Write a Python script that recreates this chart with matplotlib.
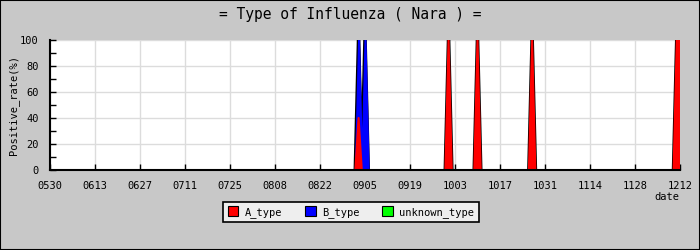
import matplotlib
matplotlib.use("Agg")
import matplotlib.pyplot as plt
import matplotlib.dates as mdates
import matplotlib.ticker as mticker
import pandas as pd
from matplotlib.patches import Rectangle

plt.rcParams["font.family"] = ["DejaVu Sans Mono"]

# Positive rate (%) by influenza type on the sampled days
start_date = "2009-05-30"
end_date = "2009-12-12"
sample_dates = ["2009-09-03", "2009-09-05", "2009-10-01", "2009-10-10",
                "2009-10-27", "2009-12-11", "2009-12-12"]
a_type = [40, 0, 100, 100, 100, 100, 100]
b_type = [60, 100, 0, 0, 0, 0, 0]
unknown_type = [0, 0, 0, 0, 0, 0, 0]

series_names = ["A_type", "B_type", "unknown_type"]
series_colors = ["#ff0000", "#0000ff", "#00ff00"]

BG = "#c8c8c8"

days = pd.date_range(start_date, end_date, freq="D")
df = pd.DataFrame({"A_type": a_type, "B_type": b_type, "unknown_type": unknown_type},
                  index=pd.to_datetime(sample_dates))
df = df.reindex(days, fill_value=0)


def near_nonzero(low, high):
    # days that carry a value, plus their direct neighbours
    has = high > low
    return has | has.shift(1, fill_value=False) | has.shift(-1, fill_value=False)


fig = plt.figure(figsize=(7, 2.5), dpi=100, facecolor=BG)
fig.patches.append(Rectangle((0, 0), 1, 1, transform=fig.transFigure, fill=False,
                             edgecolor="black", linewidth=1.5, zorder=10))
ax = fig.add_axes([50 / 700, 80 / 250, 630 / 700, 130 / 250])
ax.set_facecolor("white")

# black outline of the stacked total, drawn wide so it shows as a rim
total = df[series_names].sum(axis=1)
zero = pd.Series(0.0, index=days)
ax.plot(days, total.where(near_nonzero(zero, total)), color="black", linewidth=2.6, zorder=3)

# stacked areas (drawn top layer first so the lower one stays visible)
bases = {}
base = zero.copy()
for name in series_names:
    bases[name] = base
    base = base + df[name]
for name, color in reversed(list(zip(series_names, series_colors))):
    low = bases[name]
    high = low + df[name]
    ax.fill_between(days, low, high, where=near_nonzero(low, high), facecolor=color,
                    edgecolor=color, linewidth=1.5, zorder=4)

ax.set_xlim(days[0], days[-1])
ax.set_ylim(0, 100)

ticks = pd.date_range(start_date, end_date, freq="14D")
ax.set_xticks(ticks)
ax.xaxis.set_major_formatter(mdates.DateFormatter("%m%d"))
ax.yaxis.set_major_locator(mticker.MultipleLocator(20))
ax.yaxis.set_minor_locator(mticker.MultipleLocator(10))

ax.grid(True, color="#dcdcdc", linewidth=1, zorder=1)
ax.set_axisbelow(True)
ax.tick_params(axis="x", direction="in", length=4, width=1, pad=8, labelsize=7.5)
ax.tick_params(axis="y", which="both", direction="in", length=4, width=1, pad=8, labelsize=7.5)

for side in ["top", "right"]:
    ax.spines[side].set_visible(False)
for side in ["left", "bottom"]:
    ax.spines[side].set_linewidth(1.5)
    ax.spines[side].set_zorder(5)

ax.set_ylabel("Positive_rate(%)", fontsize=7.5, labelpad=1)
fig.text(679 / 700, 1 - 197 / 250, "date", ha="right", va="center", fontsize=7.5)

fig.text(0.5, 1 - 14 / 250, "= Type of Influenza ( Nara ) =", ha="center", va="center",
         fontsize=10.5)

handles = [Rectangle((0, 0), 1, 1, facecolor=c, edgecolor="black", linewidth=0.8)
           for c in series_colors]
leg = fig.legend(handles, series_names, loc="center", bbox_to_anchor=(351 / 700, 1 - 212 / 250),
                 ncol=3, fontsize=7.5, frameon=True, fancybox=False, facecolor="#eeeeee",
                 edgecolor="black", framealpha=1, handlelength=1.0, handleheight=1.0,
                 handletextpad=0.6, columnspacing=2.2, borderpad=0.45)
leg.get_frame().set_linewidth(1.2)

fig.savefig("out.png", dpi=100, facecolor=BG)
